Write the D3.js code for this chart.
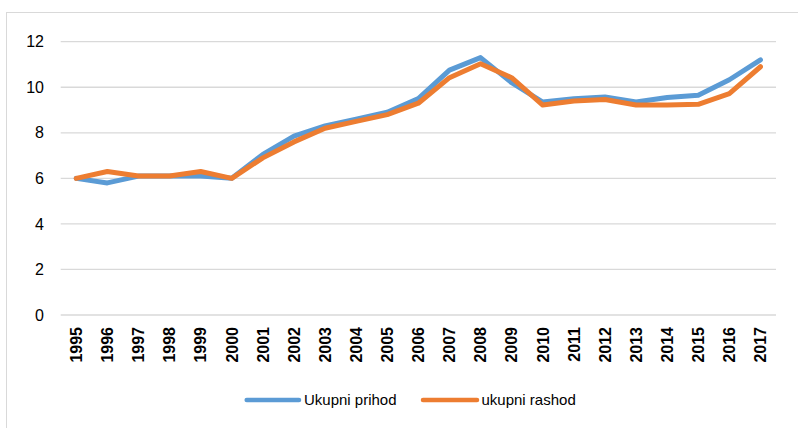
<!DOCTYPE html>
<html><head><meta charset="utf-8">
<script src="https://cdn.jsdelivr.net/npm/d3@7"></script>
<style>body{margin:0;background:#fff}svg{display:block}</style>
</head><body>
<svg id="c" width="798" height="428"></svg>
<script>
const years = ["1995","1996","1997","1998","1999","2000","2001","2002","2003","2004","2005","2006","2007","2008","2009","2010","2011","2012","2013","2014","2015","2016","2017"];
const prihod = [6.0,5.8,6.1,6.1,6.1,6.0,7.05,7.85,8.3,8.6,8.9,9.5,10.75,11.3,10.2,9.35,9.5,9.57,9.35,9.55,9.65,10.33,11.2];
const rashod = [6.0,6.3,6.1,6.1,6.3,6.0,6.9,7.6,8.2,8.5,8.8,9.3,10.42,11.03,10.42,9.22,9.4,9.46,9.22,9.22,9.25,9.72,10.9];
const yTicks = [0,2,4,6,8,10,12];
const seriesNames = ["Ukupni prihod","ukupni rashod"];
const colors = ["#5B9BD5","#ED7D31"];

const svg = d3.select("#c");
const font = "'Liberation Sans', Arial, sans-serif";
svg.append("rect").attr("x",6.5).attr("y",12.5).attr("width",820).attr("height",440)
  .attr("fill","#fff").attr("stroke","#d9d9d9").attr("stroke-width",1);

const x = d3.scaleBand().domain(years).range([60.7,776]);
const y = d3.scaleLinear().domain([0,12]).range([315,41.7]);

const g = svg.append("g");
g.selectAll("line.grid").data(yTicks).join("line")
  .attr("x1",60.7).attr("x2",776).attr("y1",d=>y(d)).attr("y2",d=>y(d))
  .attr("stroke","#d9d9d9").attr("stroke-width",1.3);

const yAxis = d3.axisLeft(y).tickValues(yTicks).tickSize(0).tickPadding(0);
const ya = svg.append("g").attr("transform","translate(44,0)").call(yAxis);
ya.select(".domain").remove();
ya.selectAll("text").attr("font-family",font).attr("font-size",16).attr("fill","#000");

const xAxis = d3.axisBottom(x).tickSize(0).tickPadding(0);
const xa = svg.append("g").attr("transform","translate(0,0)").call(xAxis);
xa.select(".domain").remove();
xa.selectAll(".tick").attr("transform",d=>`translate(${x(d)+x.bandwidth()/2},327)`);
xa.selectAll("text").attr("font-family",font).attr("font-size",16).attr("font-weight","bold").attr("fill","#000")
  .attr("transform","rotate(-90)").attr("text-anchor","end").attr("x",0).attr("y",0).attr("dy","0.36em");

const line = d3.line().x((d,i)=>x(years[i])+x.bandwidth()/2).y(d=>y(d));
[prihod,rashod].forEach((s,k)=>{
  svg.append("path").attr("d",line(s)).attr("fill","none").attr("stroke",colors[k])
    .attr("stroke-width",5).attr("stroke-linejoin","round").attr("stroke-linecap","round");
});

const leg = [{x1:246.7,x2:299,tx:304},{x1:423,x2:477,tx:481.5}];
seriesNames.forEach((n,k)=>{
  svg.append("line").attr("x1",leg[k].x1).attr("x2",leg[k].x2).attr("y1",400).attr("y2",400)
    .attr("stroke",colors[k]).attr("stroke-width",4.5).attr("stroke-linecap","round");
  svg.append("text").attr("x",leg[k].tx).attr("y",400).attr("dy","0.35em")
    .attr("font-family",font).attr("font-size",15).attr("fill","#000").text(n);
});
</script>
</body></html>
